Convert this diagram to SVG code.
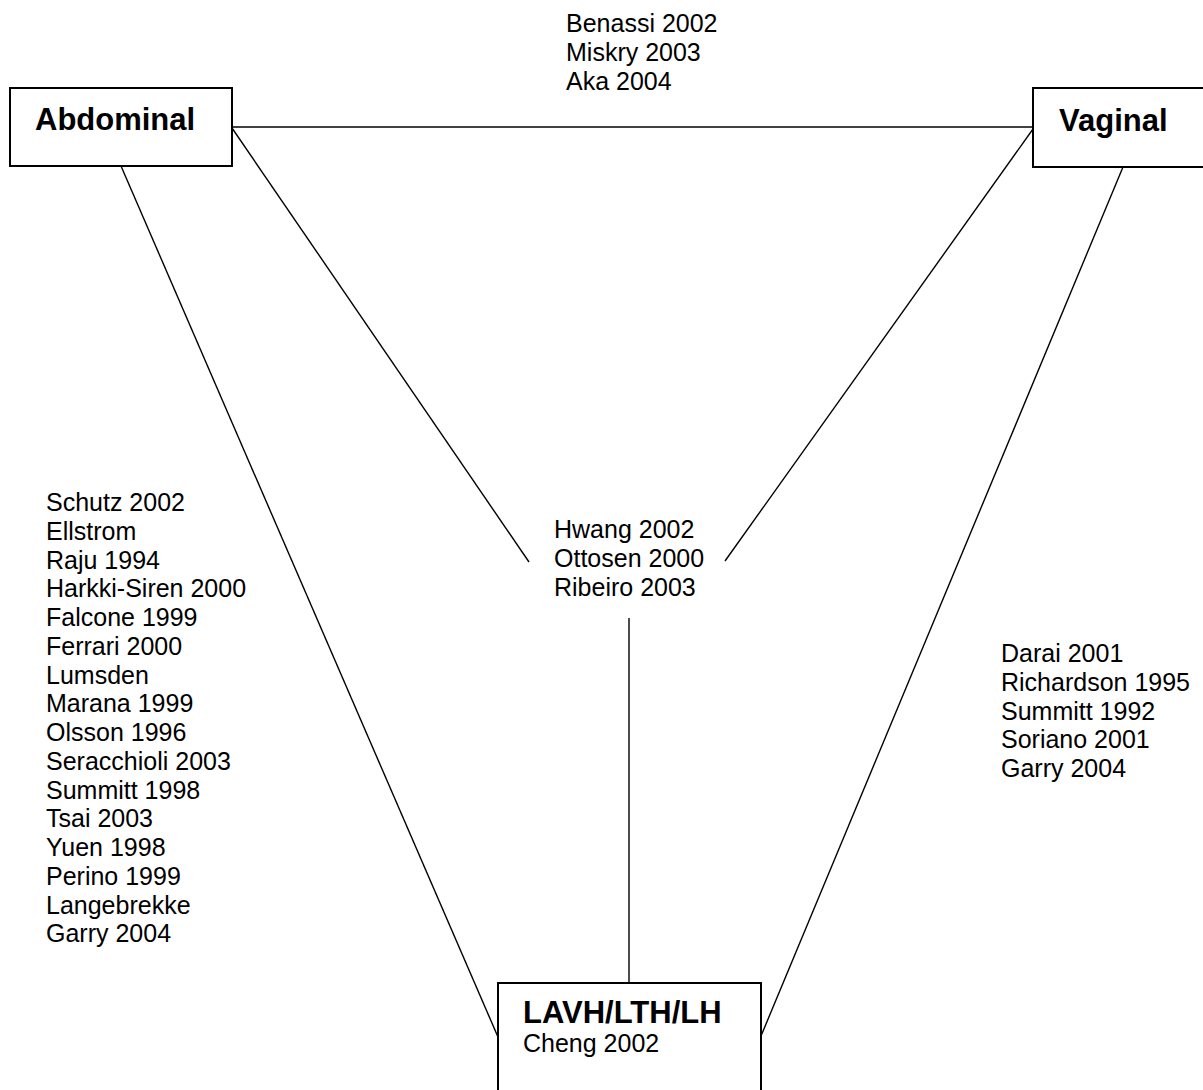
<svg xmlns="http://www.w3.org/2000/svg" width="1203" height="1090" viewBox="0 0 1203 1090">
<style>
.box{fill:#fff;stroke:#000;stroke-width:2}
.ln{stroke:#000;stroke-width:1.4;fill:none}
.t{font-family:"Liberation Sans",Arial,sans-serif;font-size:25px;fill:#000}
.b{font-family:"Liberation Sans",Arial,sans-serif;font-size:31px;font-weight:bold;fill:#000}
</style>
<rect width="1203" height="1090" fill="#fff"/>
<g id="connectors">
<line class="ln" x1="232" y1="127" x2="1033" y2="127"/>
<line class="ln" x1="232" y1="128" x2="529" y2="562"/>
<line class="ln" x1="1033" y1="129" x2="725" y2="561"/>
<line class="ln" x1="121" y1="166" x2="498" y2="1037"/>
<line class="ln" x1="1123" y1="167" x2="761" y2="1036"/>
<line class="ln" x1="629" y1="618" x2="629" y2="983"/>
</g>
<g id="abdominal">
<rect class="box" x="10" y="88" width="222" height="78"/>
<text class="b" x="35" y="130">Abdominal</text>
</g>
<g id="vaginal">
<rect class="box" x="1033" y="88" width="180" height="79"/>
<text class="b" x="1059" y="131">Vaginal</text>
</g>
<g id="lavh">
<rect class="box" x="498" y="983" width="263" height="120"/>
<text class="b" x="523" y="1023">LAVH/LTH/LH</text>
<text class="t" x="523" y="1052">Cheng 2002</text>
</g>
<g id="top-label">
<text class="t" x="566" y="32">Benassi 2002</text>
<text class="t" x="566" y="61">Miskry 2003</text>
<text class="t" x="566" y="90">Aka 2004</text>
</g>
<g id="middle-label">
<text class="t" x="554" y="538">Hwang 2002</text>
<text class="t" x="554" y="567">Ottosen 2000</text>
<text class="t" x="554" y="596">Ribeiro 2003</text>
</g>
<g id="left-label" class="t">
<text x="46" y="511">Schutz 2002</text>
<text x="46" y="539.75">Ellstrom</text>
<text x="46" y="568.5">Raju 1994</text>
<text x="46" y="597.25">Harkki-Siren 2000</text>
<text x="46" y="626">Falcone 1999</text>
<text x="46" y="654.75">Ferrari 2000</text>
<text x="46" y="683.5">Lumsden</text>
<text x="46" y="712.25">Marana 1999</text>
<text x="46" y="741">Olsson 1996</text>
<text x="46" y="769.75">Seracchioli 2003</text>
<text x="46" y="798.5">Summitt 1998</text>
<text x="46" y="827.25">Tsai 2003</text>
<text x="46" y="856">Yuen 1998</text>
<text x="46" y="884.75">Perino 1999</text>
<text x="46" y="913.5">Langebrekke</text>
<text x="46" y="942.25">Garry 2004</text>
</g>
<g id="right-label" class="t">
<text x="1001" y="662">Darai 2001</text>
<text x="1001" y="690.75">Richardson 1995</text>
<text x="1001" y="719.5">Summitt 1992</text>
<text x="1001" y="748.25">Soriano 2001</text>
<text x="1001" y="777">Garry 2004</text>
</g>
</svg>
